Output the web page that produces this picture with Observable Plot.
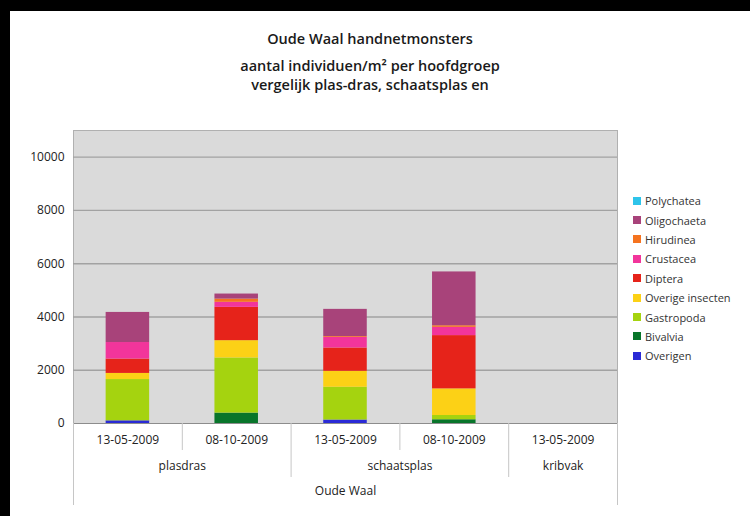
<!DOCTYPE html>
<html>
<head>
<meta charset="utf-8">
<script src="https://cdn.jsdelivr.net/npm/d3@7"></script>
<script src="https://cdn.jsdelivr.net/npm/@observablehq/plot@0.6"></script>
<style>
  html, body { margin: 0; padding: 0; background: #fff; }
  #wrap { position: relative; width: 750px; height: 516px; overflow: hidden; font-family: "Open Sans", sans-serif; background: #fff; box-shadow: inset 10px 11px 0 0 #000; }
  #wrap svg { position: absolute; left: 0; top: 0; }
  .ttl { position: absolute; left: 0; width: 740px; text-align: center; color: #1a1a1a; font-weight: 600; font-size: 14.5px; white-space: nowrap; }
  #legend { position: absolute; left: 633px; top: 191px; font-size: 11px; color: #333; }
  #legend .row { height: 19.4px; display: flex; align-items: center; white-space: nowrap; }
  #legend .sw { width: 8px; height: 8px; margin-right: 4px; flex: none; }
</style>
</head>
<body>
<div id="wrap">
  <div class="ttl" style="top:29px">Oude Waal handnetmonsters</div>
  <div class="ttl" style="top:56px">aantal individuen/m² per hoofdgroep</div>
  <div class="ttl" style="top:75px">vergelijk plas-dras, schaatsplas en</div>
  <div id="legend"></div>
</div>
<script>
// Categories (two-level axis)
const groups = ["plasdras", "plasdras", "schaatsplas", "schaatsplas", "kribvak"];
const dates  = ["13-05-2009", "08-10-2009", "13-05-2009", "08-10-2009", "13-05-2009"];
const outerLabel = "Oude Waal";

// Series (stacked bottom → top)
const seriesNames = ["Overigen", "Bivalvia", "Gastropoda", "Overige insecten", "Diptera", "Crustacea", "Hirudinea", "Oligochaeta", "Polychatea"];
const seriesColors = ["#2a2ad6", "#08752a", "#a5d30f", "#fcd116", "#e6231a", "#f2359b", "#f5731f", "#a8437a", "#2ec4ea"];

// Values per series, one per category
const overigen        = [100,    0,  130,    0, 0];
const bivalvia        = [  0,  390,    0,  140, 0];
const gastropoda      = [1550, 2070, 1230,  160, 0];
const overigeInsecten = [230,  650,  600, 1000, 0];
const diptera         = [540, 1250,  875, 2000, 0];
const crustacea       = [620,  190,  400,  310, 0];
const hirudinea       = [  0,  120,   30,   60, 0];
const oligochaeta     = [1130, 190, 1020, 2020, 0];
const polychatea      = [  0,    0,    0,    0, 0];

const yTicks = [0, 2000, 4000, 6000, 8000, 10000];
const yMax = 11000;

// Legend order (top → bottom)
const legendOrder = ["Polychatea", "Oligochaeta", "Hirudinea", "Crustacea", "Diptera", "Overige insecten", "Gastropoda", "Bivalvia", "Overigen"];

const seriesValues = [overigen, bivalvia, gastropoda, overigeInsecten, diptera, crustacea, hirudinea, oligochaeta, polychatea];

// Build stacked table
const rows = [];
dates.forEach((d, i) => {
  let acc = 0;
  seriesNames.forEach((s, k) => {
    const v = seriesValues[k][i];
    if (v > 0) rows.push({i, series: s, y1: acc, y2: acc + v});
    acc += v;
  });
});

const half = 0.2; // half bar width in category units
const n = dates.length;

// Separators for the hierarchical axis
const shortSeps = [], groupSeps = [];
for (let i = 0; i < n - 1; i++) {
  if (groups[i] === groups[i + 1]) shortSeps.push(i + 0.5);
  else groupSeps.push(i + 0.5);
}
const outerSeps = [-0.5, n - 0.5];

// Group label positions
const groupLabels = [];
groups.forEach((g, i) => {
  const last = groupLabels[groupLabels.length - 1];
  if (last && last.name === g) { last.end = i; }
  else groupLabels.push({name: g, start: i, end: i});
});
groupLabels.forEach(g => g.mid = (g.start + g.end) / 2);

const sepColor = "#c6c6c6";

const chart = Plot.plot({
  width: 750,
  height: 516,
  marginLeft: 73,
  marginRight: 133,
  marginTop: 130,
  marginBottom: 93,
  style: {fontFamily: "Open Sans, sans-serif", fontSize: "12px", color: "#222", background: "transparent", overflow: "visible"},
  x: {domain: [-0.5, n - 0.5], axis: null},
  y: {domain: [0, yMax], ticks: yTicks, tickSize: 0, tickPadding: 9, label: null, tickFormat: d => String(d)},
  color: {domain: seriesNames, range: seriesColors},
  marks: [
    Plot.frame({fill: "#dadada", stroke: "#b0b0b0"}),
    Plot.ruleY(yTicks.filter(t => t > 0), {stroke: "#a2a2a2", strokeWidth: 1.4}),
    Plot.rect(rows, {x1: d => d.i - half, x2: d => d.i + half, y1: "y1", y2: "y2", fill: "series"}),
    Plot.ruleY([0], {stroke: "#8c8c8c", strokeWidth: 1.2}),
    // hierarchical category axis
    Plot.ruleX(shortSeps, {x: d => d, y1: 0, y2: 0, insetBottom: -27, stroke: sepColor}),
    Plot.ruleX(groupSeps, {x: d => d, y1: 0, y2: 0, insetBottom: -54, stroke: sepColor}),
    Plot.ruleX(outerSeps, {x: d => d, y1: 0, y2: 0, insetBottom: -82, stroke: sepColor}),
    Plot.text(dates, {x: (d, i) => i, text: d => d, frameAnchor: "bottom", dy: 20, fill: "#222", fontSize: 12}),
    Plot.text(groupLabels, {x: "mid", text: "name", frameAnchor: "bottom", dy: 46, fill: "#222", fontSize: 12}),
    Plot.text([outerLabel], {x: (n - 1) / 2, text: d => d, frameAnchor: "bottom", dy: 71, fill: "#222", fontSize: 12})
  ]
});
document.getElementById("wrap").insertBefore(chart, document.getElementById("wrap").firstChild);

// Legend
const colorOf = Object.fromEntries(seriesNames.map((s, k) => [s, seriesColors[k]]));
const lg = document.getElementById("legend");
legendOrder.forEach(s => {
  const row = document.createElement("div");
  row.className = "row";
  const sw = document.createElement("span");
  sw.className = "sw";
  sw.style.background = colorOf[s];
  const tx = document.createElement("span");
  tx.textContent = s;
  row.appendChild(sw);
  row.appendChild(tx);
  lg.appendChild(row);
});
</script>
</body>
</html>
